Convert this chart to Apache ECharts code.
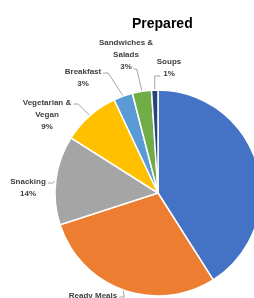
<!DOCTYPE html>
<html>
<head>
<meta charset="utf-8">
<script src="https://cdn.jsdelivr.net/npm/echarts@6/dist/echarts.min.js"></script>
<style>
  html, body { margin: 0; padding: 0; background: #fff; }
  #chart { width: 254px; height: 298px; }
</style>
</head>
<body>
<div id="chart"></div>
<script>
// categories and shares (%)
const categories = ['Chilled Meals', 'Ready Meals', 'Snacking', 'Vegetarian &\nVegan', 'Breakfast', 'Sandwiches &\nSalads', 'Soups'];
const shares = [41, 29, 14, 9, 3, 3, 1];
const colors = ['#4472C4', '#ED7D31', '#A5A5A5', '#FFC000', '#5B9BD5', '#70AD47', '#264478'];
// where each data label sits (label centre, px), like the hand-placed Excel labels
const labelSpots = [[300, 150], [93, 302], [28, 188], [47, 115], [83, 78], [126, 55], [169, 68]];

const CX = 158, CY = 193, R = 103;
const LABEL_FONT = 'bold 8px "Liberation Sans"';
const LINE_H = 12;

const total = shares.reduce((a, b) => a + b, 0);
// mid angle of each slice, degrees clockwise from 12 o'clock
const midAngles = [];
let acc = 0;
shares.forEach(v => {
  midAngles.push((acc + v / 2) / total * 360);
  acc += v;
});

const ctx = document.createElement('canvas').getContext('2d');
ctx.font = LABEL_FONT;
const textW = s => ctx.measureText(s).width;

function labelLine(i) {
  const a = midAngles[i] * Math.PI / 180;
  const anchor = [CX + R * Math.sin(a), CY - R * Math.cos(a)];
  const [lx, ly] = labelSpots[i];
  const lines = (categories[i] + '\n' + shares[i] + '%').split('\n');
  const top = ly - lines.length * LINE_H / 2;
  const last = lines[lines.length - 1];
  const lastY = top + LINE_H * (lines.length - 0.5) + 2;
  if (lx > anchor[0]) {
    // label to the right of the slice: hook into the left of the last line
    const attach = [lx - textW(last) / 2 - 3, lastY];
    return [attach, [anchor[0], attach[1]], anchor];
  }
  const halfW = Math.max(...lines.map(textW)) / 2;
  if (anchor[0] < lx + halfW) {
    // slice right below the label: hook into the right of the last line
    const attach = [lx + textW(last) / 2 + 2, lastY];
    return [attach, [attach[0] + 3, attach[1]], anchor];
  }
  const attach = [lx + textW(lines[0]) / 2 + 2, top + LINE_H / 2 + 1];
  return [attach, [attach[0] + 5, attach[1]], anchor];
}

const chart = echarts.init(document.getElementById('chart'));

chart.setOption({
  animation: false,
  color: colors,
  title: {
    text: 'Prepared',
    left: 132,
    top: 17,
    padding: 0,
    textStyle: {
      fontFamily: 'Liberation Sans',
      fontSize: 14,
      fontWeight: 'bold',
      color: '#000'
    }
  },
  series: [{
    type: 'pie',
    center: [CX, CY],
    radius: R,
    startAngle: 90,
    clockwise: true,
    data: categories.map((c, i) => ({ name: c, value: shares[i] })),
    itemStyle: { borderColor: '#fff', borderWidth: 1.5 },
    label: {
      show: true,
      position: 'outside',
      formatter: p => p.name + '\n' + p.value + '%',
      fontFamily: 'Liberation Sans',
      fontSize: 8,
      fontWeight: 'bold',
      color: '#404040',
      lineHeight: LINE_H,
      width: 70,
      overflow: 'none',
      align: 'center'
    },
    labelLine: {
      show: true,
      length: 8,
      length2: 6,
      lineStyle: { color: '#A6A6A6', width: 1 }
    },
    labelLayout: p => ({
      x: labelSpots[p.dataIndex][0],
      y: labelSpots[p.dataIndex][1],
      align: 'center',
      verticalAlign: 'middle',
      labelLinePoints: labelLine(p.dataIndex)
    })
  }]
});
</script>
</body>
</html>
